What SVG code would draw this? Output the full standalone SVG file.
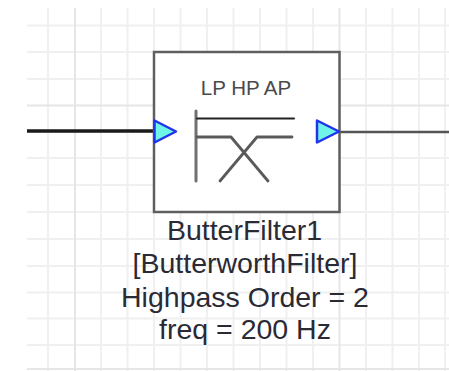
<svg xmlns="http://www.w3.org/2000/svg" width="449" height="371" viewBox="0 0 449 371">
<style>
.g{stroke:#f0f0f0;stroke-width:2;fill:none}
.gd{stroke:#e6e6e6;stroke-width:2;fill:none}
.ic{fill:none;stroke-linecap:round;stroke-linejoin:round}
.port{fill:#6ff5e8;stroke:#2233ee;stroke-width:2.500;stroke-linejoin:round}
text{font-family:"Liberation Sans",Arial,sans-serif;text-anchor:middle}
.lb{font-size:28.500px;fill:#2a2a35}
</style>
<rect width="449" height="371" fill="#fff"/>
<g id="grid">
<path class="g" d="M48 8V371M101 8V371M127.500 8V371M154 8V371M180.500 8V371M207 8V371M233.500 8V371M260 8V371M286.500 8V371M313 8V371M366 8V371M392.500 8V371M419 8V371M445 8V371"/>
<path class="g" d="M27 25.500H449M27 52H449M27 79H449M27 132H449M27 158H449M27 185H449M27 212H449M27 239H449M27 266H449M27 292.500H449M27 318.500H449M27 345H449"/>
<path class="gd" d="M75 8V371M339.500 8V371M27 105.500H449M27 369H449"/>
</g>
<g id="connectors">
<path d="M27 131H155" stroke="#1a1a1a" stroke-width="3.500" fill="none"/>
<path d="M339 132H449" stroke="#555" stroke-width="2.500" fill="none"/>
</g>
<g id="ButterFilter1">
<rect x="154" y="52" width="185.500" height="160" fill="#fff" stroke="#5f5f5f" stroke-width="2.500"/>
<text x="246" y="94.500" font-size="20.500" fill="#4a4a4a">LP HP AP</text>
<path class="ic" stroke="#707070" stroke-width="3" d="M196 111V181"/>
<path class="ic" stroke="#222" stroke-width="2" d="M197 118.500H294"/>
<path class="ic" stroke="#5a5a5a" stroke-width="2.800" d="M197 137H231L268 181M220 181L257 137H292"/>
<path class="port" d="M154.500 120.500L176 131.500L154.500 142.500Z"/>
<path class="port" d="M317 120.500L339 131.500L317 142.500Z"/>
<text class="lb" x="244.500" y="240">ButterFilter1</text>
<text class="lb" x="245" y="273">[ButterworthFilter]</text>
<text class="lb" x="245" y="307">Highpass Order = 2</text>
<text class="lb" x="245" y="339">freq = 200 Hz</text>
</g>
</svg>
